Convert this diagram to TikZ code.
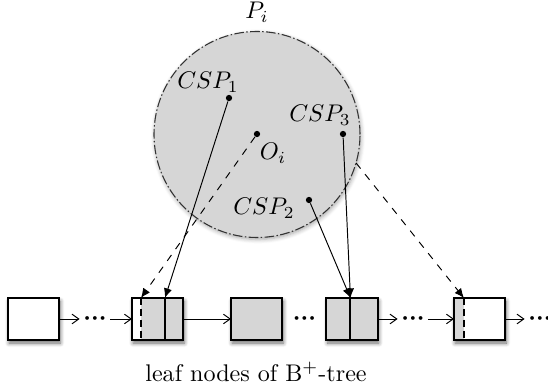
\documentclass[tikz,border=0pt]{standalone}
\usetikzlibrary{arrows.meta,calc,shadows.blur}
\definecolor{cellgray}{gray}{0.84}
\newcommand{\leafdots}{{\boldmath${\cdot}{\cdot}{\cdot}$}}
\begin{document}
\begin{tikzpicture}[x=0.415pt,y=-0.415pt,
  leafbox/.style={draw=none,fill=white,minimum width=21.2pt,minimum height=17.4pt,
    inner sep=0pt,outer sep=0pt,
    blur shadow={shadow xshift=0.5pt,shadow yshift=-1.3pt,shadow blur steps=6,shadow opacity=60}},
  boxline/.style={line width=0.8pt},
  divline/.style={line width=0.8pt},
  divdash/.style={line width=0.8pt,dash pattern=on 3pt off 1.5pt},
  link/.style={line width=0.4pt,-{Straight Barb[length=2.8pt,width=4pt,line width=0.4pt]}},
  ptr/.style={line width=0.4pt,-{Latex[length=4pt,width=3.4pt]}},
  dotsnode/.style={inner sep=1.6pt,outer sep=0pt},
  pt/.style={circle,fill=black,inner sep=0pt,minimum size=2.6pt},
  lbl/.style={inner sep=0pt}
]
\useasboundingbox (0,0) rectangle (548,387);

% the region P_i
\node[circle,minimum size=85.5pt,inner sep=0pt,outer sep=0pt,fill=cellgray,
  draw=black!80,line width=0.45pt,dash pattern=on 4pt off 1pt on 0.6pt off 1pt,
  blur shadow={shadow xshift=0.4pt,shadow yshift=-0.8pt,shadow blur steps=5,shadow opacity=35}]
  (P) at (257,134.5) {};
\node[lbl] (Plbl) at (257,12) {$P_i$};

% points inside the region
\node[pt] (csp1) at (229,98) {};
\node[pt] (oi)   at (257,134) {};
\node[pt] (csp3) at (343,134) {};
\node[pt] (csp2) at (309,200) {};
\node[lbl] (csp1lbl) at (208,82)  {$CSP_1$};
\node[lbl] (csp3lbl) at (320,115) {$CSP_3$};
\node[lbl] (oilbl)   at (273,153) {$O_i$};
\node[lbl] (csp2lbl) at (264,208) {$CSP_2$};

% leaf nodes
\node[leafbox] (b1) at (33.5,319) {};
\draw[boxline] (b1.north west) rectangle (b1.south east);

\node[leafbox] (b2) at (157.5,319) {};
\coordinate (b2cut) at ($(b2.north west)+(9,0)$);
\coordinate (b2mid) at ($(b2.north west)+(33,0)$);
\fill[cellgray] (b2cut) rectangle (b2.south east);
\draw[divdash] (b2cut) -- (b2cut |- b2.south);
\draw[divline] (b2mid) -- (b2mid |- b2.south);
\draw[boxline] (b2.north west) rectangle (b2.south east);

\node[leafbox,fill=cellgray] (b3) at (256.5,319) {};
\draw[boxline] (b3.north west) rectangle (b3.south east);

\node[leafbox,fill=cellgray] (b4) at (352,319) {};
\coordinate (b4mid) at ($(b4.north west)+(24,0)$);
\draw[divline] (b4mid) -- (b4mid |- b4.south);
\draw[boxline] (b4.north west) rectangle (b4.south east);

\node[leafbox] (b5) at (479.5,319) {};
\coordinate (b5cut) at ($(b5.north west)+(10,0)$);
\fill[cellgray] (b5.north west) rectangle (b5cut |- b5.south);
\draw[divdash] (b5cut) -- (b5cut |- b5.south);
\draw[boxline] (b5.north west) rectangle (b5.south east);

% sibling links
\node[dotsnode] (dt1) at (95,319)  {\leafdots};
\node[dotsnode] (dt3) at (304.5,319) {\leafdots};
\node[dotsnode] (dt4) at (413,319) {\leafdots};
\node[dotsnode] (dt5) at (540,319) {\leafdots};
\draw[link] (b1) -- (dt1);
\draw[link] (dt1) -- (b2);
\draw[link] (b2) -- (b3);
\draw[link] (b4) -- (dt4);
\draw[link] (dt4) -- (b5);
\draw[link] (b5) -- (dt5);

% pointers from the region to the leaf entries
\draw[ptr] (csp1) -- (b2mid);
\draw[ptr,dashed] (oi) -- (b2cut);
\draw[ptr] (csp3) -- (b4mid);
\draw[ptr] (csp2) -- (b4mid);
\draw[ptr,dashed] (P.-16) -- (b5cut);

\node[lbl] (caption) at (256,372) {leaf nodes of B$^+$-tree};
\end{tikzpicture}
\end{document}
